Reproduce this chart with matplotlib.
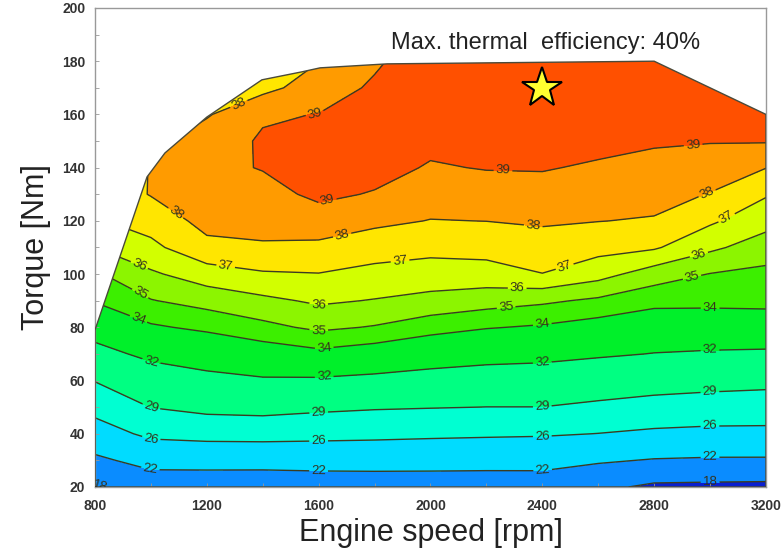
import numpy as np
import matplotlib
matplotlib.use("Agg")
import matplotlib.pyplot as plt
from matplotlib.patches import Polygon
from matplotlib.ticker import MultipleLocator

plt.rcParams['font.family'] = ['Liberation Sans', 'DejaVu Sans']

# engine speed [rpm] and torque [Nm] grid of the map
rpm = [800, 1000, 1200, 1400, 1600, 1800, 2000, 2200, 2400, 2600, 2800, 3000, 3200]
torque = [20, 30, 40, 50, 60, 70, 80, 90, 100, 110, 120, 130, 140, 150, 160, 170, 180]

# brake thermal efficiency [%], one row per torque value
eff = [
    [17.8, 19.8, 19.8, 19.8, 20.0, 20.2, 20.3, 20.3, 20.4, 18.8, 17.33, 17.2, 17.1],
    [21.3, 23.2, 23.26, 23.23, 23.33, 23.26, 23.15, 23.07, 23.02, 22.42, 21.78, 21.57, 21.56],
    [24.46, 26.7, 27.1, 27.2, 27.0, 26.85, 26.63, 26.46, 26.32, 25.96, 25.49, 25.27, 25.27],
    [27.03, 29.05, 29.7, 29.87, 29.5, 29.23, 29.1, 28.98, 28.98, 28.52, 28.08, 27.8, 27.66],
    [29.1, 30.83, 31.47, 31.8, 31.77, 31.54, 31.25, 31.0, 30.9, 30.51, 30.13, 29.9, 29.7],
    [31.33, 32.47, 32.93, 33.36, 33.71, 33.39, 32.96, 32.69, 32.55, 32.25, 31.95, 31.8, 31.7],
    [32.87, 33.85, 34.23, 34.73, 35.2, 34.93, 34.43, 34.07, 33.87, 33.53, 33.2, 33.24, 33.36],
    [34.08, 34.95, 35.38, 35.78, 36.15, 35.95, 35.7, 35.44, 35.18, 34.82, 34.33, 34.29, 34.29],
    [34.85, 35.85, 36.52, 36.89, 36.97, 36.7, 36.56, 36.59, 36.98, 36.38, 35.5, 34.97, 34.76],
    [36.0, 36.75, 37.75, 37.9, 37.78, 37.46, 37.28, 37.36, 37.57, 37.33, 37.12, 36.2, 35.5],
    [36.9, 37.42, 38.3, 38.3, 38.56, 38.21, 37.97, 38.01, 38.12, 38.02, 37.92, 37.16, 36.36],
    [37.3, 38.05, 38.6, 38.67, 39.2, 38.93, 38.44, 38.54, 38.6, 38.44, 38.35, 37.96, 37.09],
    [37.65, 38.02, 38.75, 39.05, 39.4, 39.35, 38.91, 39.05, 39.07, 38.87, 38.73, 38.51, 38.02],
    [37.98, 37.7, 38.55, 39.1, 39.35, 39.5, 39.25, 39.4, 39.45, 39.3, 39.1, 39.05, 39.07],
    [38.2, 37.4, 37.9, 38.9, 39.02, 39.4, 39.5, 39.7, 39.8, 39.65, 39.4, 39.3, 39.3],
    [38.2, 37.1, 37.5, 37.7, 38.5, 39.15, 39.65, 39.9, 40.05, 39.85, 39.6, 39.45, 39.4],
    [38.0, 36.8, 37.0, 37.2, 37.98, 38.85, 39.6, 39.8, 39.9, 39.75, 39.5, 39.4, 39.4],
]

# full load line (outline of the map)
boundary_rpm = [800, 800, 986, 1050, 1200, 1397, 1540, 1605, 1845, 2800, 3200, 3200]
boundary_torque = [20, 79, 136.5, 145.5, 159, 173, 176, 177.5, 179, 180, 160, 20]

levels = [18, 22, 26, 29, 32, 34, 35, 36, 37, 38, 39]
band_colors = ['#0a1ed0', '#0a8cff', '#00dcff', '#00ffd2', '#00ff82', '#00f02a',
               '#3cef00', '#8cf500', '#d2ff00', '#ffe600', '#ff9b00', '#ff5000']

max_point = (2400, 170)

fig = plt.figure(figsize=(7.82, 5.54), dpi=100)
ax = fig.add_axes([0.1215, 0.121, 0.858, 0.8646])

X, Y = np.meshgrid(rpm, torque)
Z = np.array(eff)

cf = ax.contourf(X, Y, Z, levels=[0] + levels + [50], colors=band_colors)
cl = ax.contour(X, Y, Z, levels=levels, colors='#3b3b22', linewidths=1.0)

outline = Polygon(np.column_stack([boundary_rpm, boundary_torque]), closed=True,
                  facecolor='none', edgecolor='#4a4a3a', linewidth=1.0, zorder=3)
ax.add_patch(outline)
cf.set_clip_path(outline)
cl.set_clip_path(outline)

label_pos = [
    (820, 21), (3000, 21.5),
    (1000, 27.3), (1600, 27), (2400, 27), (3000, 31),
    (1000, 37), (1600, 36.5), (2400, 39), (3000, 42),
    (1000, 49.8), (1600, 48), (2400, 50), (3000, 55),
    (1000, 66.5), (1620, 61), (2400, 66), (3000, 71),
    (950, 82), (1620, 72), (2400, 81), (3000, 86),
    (954, 91.5), (1600, 78.5), (2270, 88), (2935, 99),
    (954, 102.5), (1600, 88.5), (2310, 94), (2964, 106),
    (1265, 101.5), (1891, 105), (2488, 100.5), (3060, 121),
    (1057, 119), (1319, 163), (1687, 113.5), (2367, 117.7), (2989, 130.5),
    (1587, 160), (1640, 124), (2259, 138), (2939, 149),
]
ax.clabel(cl, fmt='%d', fontsize=9.5, colors='#33331f', inline=True,
          inline_spacing=2, manual=label_pos)

ax.plot(*max_point, marker='*', markersize=30, markerfacecolor='#ffff30',
        markeredgecolor='black', markeredgewidth=1.5, zorder=5)
ax.text(2413, 187, 'Max. thermal  efficiency: 40%', ha='center', va='center',
        fontsize=17, color='#222222')

ax.set_xlim(800, 3200)
ax.set_ylim(20, 200)
ax.xaxis.set_major_locator(MultipleLocator(400))
ax.xaxis.set_minor_locator(MultipleLocator(200))
ax.yaxis.set_major_locator(MultipleLocator(20))
ax.yaxis.set_minor_locator(MultipleLocator(10))
ax.tick_params(which='both', direction='in', length=3, width=0.6, color='#999999',
               labelsize=10, labelcolor='#333333')
ax.tick_params(axis='x', pad=9)
ax.tick_params(axis='y', pad=7)
for lab in ax.get_xticklabels() + ax.get_yticklabels():
    lab.set_fontweight('bold')
for sp in ax.spines.values():
    sp.set_color('#999999')
    sp.set_linewidth(1.0)

ax.set_xlabel('Engine speed [rpm]', fontsize=22, color='#222222', labelpad=3)
ax.set_ylabel('Torque [Nm]', fontsize=22, color='#222222', labelpad=8)

fig.savefig('out.png', dpi=100)
